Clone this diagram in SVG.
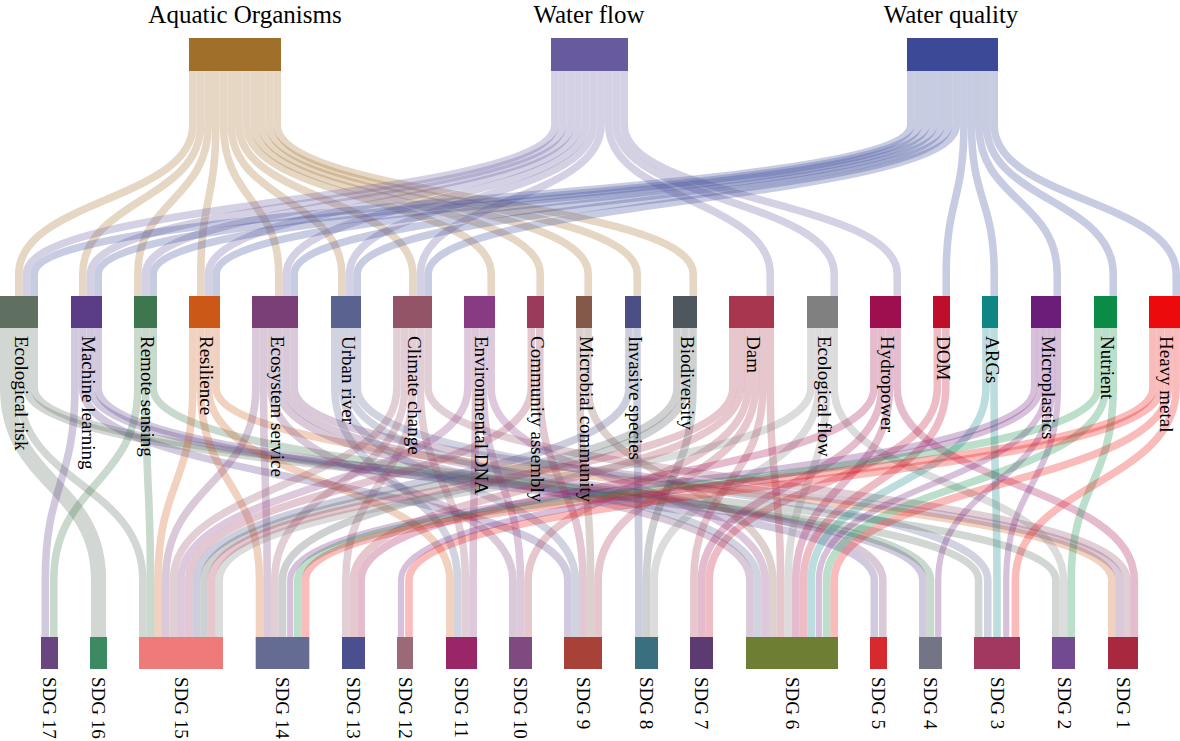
<svg xmlns="http://www.w3.org/2000/svg" width="1180" height="741" viewBox="0 0 1180 741">
<style>
text{font-family:"Liberation Serif","Times New Roman",serif;fill:#000}
.t{font-size:25px;text-anchor:middle}
.m{font-size:19px}
.b{font-size:19px}
#links path{fill:none;stroke-width:7.6;stroke-opacity:.28}
.la{stroke:#a0702a}.lw{stroke:#675a9d}.lq{stroke:#3b4996}
.c0{stroke:#5f6f60}.c1{stroke:#5a3d86}.c2{stroke:#3e7650}.c3{stroke:#cc5818}.c4{stroke:#7b3f78}
.c5{stroke:#5a6390}.c6{stroke:#935468}.c7{stroke:#883a82}.c8{stroke:#9c3a5c}.c9{stroke:#83594a}
.c10{stroke:#4c4e86}.c11{stroke:#4f575e}.c12{stroke:#a8364e}.c13{stroke:#808080}.c14{stroke:#9e0f50}
.c15{stroke:#bf0e2b}.c16{stroke:#0d8684}.c17{stroke:#6a1e7a}.c18{stroke:#0a8b46}.c19{stroke:#ec0a0c}
#links path.c17{stroke-width:6.2}
</style>
<g id="links">
<g class="la">
<path d="M192.8 71V125C192.8 200 18.8 200 18.8 274V296"/>
<path d="M200.5 71V125C200.5 200 82.8 200 82.8 274V296"/>
<path d="M208.2 71V125C208.2 200 137.8 200 137.8 274V296"/>
<path d="M215.8 71V125C215.8 200 200.8 200 200.8 274V296"/>
<path d="M223.5 71V125C223.5 200 278.8 200 278.8 274V296"/>
<path d="M231.2 71V125C231.2 200 341.8 200 341.8 274V296"/>
<path d="M238.8 71V125C238.8 200 412.8 200 412.8 274V296"/>
<path d="M246.5 71V125C246.5 200 491.2 200 491.2 274V296"/>
<path d="M254.2 71V125C254.2 200 540.2 200 540.2 274V296"/>
<path d="M261.8 71V125C261.8 200 588.2 200 588.2 274V296"/>
<path d="M269.5 71V125C269.5 200 637.2 200 637.2 274V296"/>
<path d="M277.2 71V125C277.2 200 693.2 200 693.2 274V296"/>
</g>
<g class="lw">
<path d="M554.9 71V125C554.9 200 26.5 200 26.5 274V296"/>
<path d="M562.6 71V125C562.6 200 90.5 200 90.5 274V296"/>
<path d="M570.3 71V125C570.3 200 145.5 200 145.5 274V296"/>
<path d="M578 71V125C578 200 208.5 200 208.5 274V296"/>
<path d="M585.7 71V125C585.7 200 286.5 200 286.5 274V296"/>
<path d="M593.4 71V125C593.4 200 349.5 200 349.5 274V296"/>
<path d="M601.1 71V125C601.1 200 420.5 200 420.5 274V296"/>
<path d="M608.8 71V125C608.8 200 770.2 200 770.2 274V296"/>
<path d="M616.5 71V125C616.5 200 834.2 200 834.2 274V296"/>
<path d="M624.2 71V125C624.2 200 897.2 200 897.2 274V296"/>
</g>
<g class="lq">
<path d="M910.8 71V125C910.8 200 34.2 200 34.2 274V296"/>
<path d="M918.4 71V125C918.4 200 98.2 200 98.2 274V296"/>
<path d="M926 71V125C926 200 153.2 200 153.2 274V296"/>
<path d="M933.5 71V125C933.5 200 216.2 200 216.2 274V296"/>
<path d="M941.1 71V125C941.1 200 294.2 200 294.2 274V296"/>
<path d="M948.7 71V125C948.7 200 357.2 200 357.2 274V296"/>
<path d="M956.3 71V125C956.3 200 428.2 200 428.2 274V296"/>
<path d="M963.9 71V125C963.9 200 946.2 200 946.2 274V296"/>
<path d="M971.5 71V125C971.5 200 994.2 200 994.2 274V296"/>
<path d="M979 71V125C979 200 1057.2 200 1057.2 274V296"/>
<path d="M986.6 71V125C986.6 200 1113.2 200 1113.2 274V296"/>
<path d="M994.2 71V125C994.2 200 1176.2 200 1176.2 274V296"/>
</g>
<path class="c0" style="stroke-width:15.2" d="M7.6 328V388C7.6 484 98.5 484 98.5 580V637"/>
<path class="c0" d="M19 328V388C19 484 142.8 484 142.8 580V637"/>
<path class="c0" d="M26.6 328V388C26.6 484 978.6 484 978.6 580V637"/>
<path class="c0" d="M34.2 328V388C34.2 484 1055.8 484 1055.8 580V637"/>
<path class="c1" d="M74.9 328V388C74.9 484 45.3 484 45.3 580V637"/>
<path class="c1" d="M82.6 328V388C82.6 484 567.8 484 567.8 580V637"/>
<path class="c1" d="M90.4 328V388C90.4 484 874.3 484 874.3 580V637"/>
<path class="c1" d="M98.1 328V388C98.1 484 922.8 484 922.8 580V637"/>
<path class="c2" d="M137.8 328V388C137.8 484 53.8 484 53.8 580V637"/>
<path class="c2" d="M145.5 328V388C145.5 484 150.5 484 150.5 580V637"/>
<path class="c2" d="M153.2 328V388C153.2 484 930.5 484 930.5 580V637"/>
<path class="c3" d="M192.9 328V388C192.9 484 158.1 484 158.1 580V637"/>
<path class="c3" d="M200.6 328V388C200.6 484 259.5 484 259.5 580V637"/>
<path class="c3" d="M208.4 328V388C208.4 484 449.9 484 449.9 580V637"/>
<path class="c3" d="M216.1 328V388C216.1 484 1111.8 484 1111.8 580V637"/>
<path class="c4" d="M255.8 328V388C255.8 484 165.7 484 165.7 580V637"/>
<path class="c4" d="M263.5 328V388C263.5 484 267.2 484 267.2 580V637"/>
<path class="c4" d="M271.2 328V388C271.2 484 512.8 484 512.8 580V637"/>
<path class="c4" d="M278.8 328V388C278.8 484 749.8 484 749.8 580V637"/>
<path class="c4" d="M286.5 328V388C286.5 484 882.8 484 882.8 580V637"/>
<path class="c4" d="M294.2 328V388C294.2 484 1119.3 484 1119.3 580V637"/>
<path class="c5" d="M334.8 328V388C334.8 484 457.6 484 457.6 580V637"/>
<path class="c5" d="M342.3 328V388C342.3 484 575.4 484 575.4 580V637"/>
<path class="c5" d="M349.8 328V388C349.8 484 757.5 484 757.5 580V637"/>
<path class="c5" d="M357.3 328V388C357.3 484 987.8 484 987.8 580V637"/>
<path class="c6" d="M396.9 328V388C396.9 484 173.4 484 173.4 580V637"/>
<path class="c6" d="M404.7 328V388C404.7 484 274.8 484 274.8 580V637"/>
<path class="c6" d="M412.5 328V388C412.5 484 345.8 484 345.8 580V637"/>
<path class="c6" d="M420.3 328V388C420.3 484 465.4 484 465.4 580V637"/>
<path class="c6" d="M428.1 328V388C428.1 484 1126.8 484 1126.8 580V637"/>
<path class="c7" d="M467.9 328V388C467.9 484 181 484 181 580V637"/>
<path class="c7" d="M475.6 328V388C475.6 484 473.1 484 473.1 580V637"/>
<path class="c7" d="M483.4 328V388C483.4 484 520.5 484 520.5 580V637"/>
<path class="c7" d="M491.1 328V388C491.1 484 765.2 484 765.2 580V637"/>
<path class="c8" d="M531.3 328V388C531.3 484 188.7 484 188.7 580V637"/>
<path class="c8" d="M539.8 328V388C539.8 484 583 484 583 580V637"/>
<path class="c9" d="M580 328V388C580 484 590.6 484 590.6 580V637"/>
<path class="c9" d="M588 328V388C588 484 772.8 484 772.8 580V637"/>
<path class="c10" d="M629 328V388C629 484 196.3 484 196.3 580V637"/>
<path class="c10" d="M637 328V388C637 484 638.8 484 638.8 580V637"/>
<path class="c11" d="M677 328V388C677 484 204 484 204 580V637"/>
<path class="c11" d="M685 328V388C685 484 282.5 484 282.5 580V637"/>
<path class="c11" d="M693 328V388C693 484 646.5 484 646.5 580V637"/>
<path class="c12" d="M732.8 328V388C732.8 484 211.6 484 211.6 580V637"/>
<path class="c12" d="M740.3 328V388C740.3 484 353.5 484 353.5 580V637"/>
<path class="c12" d="M747.8 328V388C747.8 484 528.2 484 528.2 580V637"/>
<path class="c12" d="M755.3 328V388C755.3 484 598.2 484 598.2 580V637"/>
<path class="c12" d="M762.8 328V388C762.8 484 693.8 484 693.8 580V637"/>
<path class="c12" d="M770.3 328V388C770.3 484 780.5 484 780.5 580V637"/>
<path class="c13" d="M810.9 328V388C810.9 484 219.2 484 219.2 580V637"/>
<path class="c13" d="M818.6 328V388C818.6 484 654.2 484 654.2 580V637"/>
<path class="c13" d="M826.4 328V388C826.4 484 788.2 484 788.2 580V637"/>
<path class="c13" d="M834.1 328V388C834.1 484 1063.5 484 1063.5 580V637"/>
<path class="c14" d="M873.9 328V388C873.9 484 361.2 484 361.2 580V637"/>
<path class="c14" d="M881.6 328V388C881.6 484 701.5 484 701.5 580V637"/>
<path class="c14" d="M889.4 328V388C889.4 484 795.8 484 795.8 580V637"/>
<path class="c14" d="M897.1 328V388C897.1 484 1134.3 484 1134.3 580V637"/>
<path class="c15" d="M937.3 328V388C937.3 484 709.2 484 709.2 580V637"/>
<path class="c15" d="M945.8 328V388C945.8 484 803.5 484 803.5 580V637"/>
<path class="c16" d="M986 328V388C986 484 811.2 484 811.2 580V637"/>
<path class="c16" d="M994 328V388C994 484 997 484 997 580V637"/>
<path class="c17" d="M1034 328V388C1034 484 290.2 484 290.2 580V637"/>
<path class="c17" d="M1040 328V388C1040 484 401 484 401 580V637"/>
<path class="c17" d="M1046 328V388C1046 484 818.8 484 818.8 580V637"/>
<path class="c17" d="M1052 328V388C1052 484 938.2 484 938.2 580V637"/>
<path class="c17" d="M1058 328V388C1058 484 1006.2 484 1006.2 580V637"/>
<path class="c18" d="M1097.8 328V388C1097.8 484 297.8 484 297.8 580V637"/>
<path class="c18" d="M1105.5 328V388C1105.5 484 826.5 484 826.5 580V637"/>
<path class="c18" d="M1113.2 328V388C1113.2 484 1071.2 484 1071.2 580V637"/>
<path class="c19" d="M1152.9 328V388C1152.9 484 305.5 484 305.5 580V637"/>
<path class="c19" d="M1160.6 328V388C1160.6 484 409 484 409 580V637"/>
<path class="c19" d="M1168.4 328V388C1168.4 484 834.2 484 834.2 580V637"/>
<path class="c19" d="M1176.1 328V388C1176.1 484 1015.4 484 1015.4 580V637"/>
</g>
<g id="top-aquatic"><rect x="189" y="38" width="92" height="33" fill="#a0702a"/><text class="t" x="245" y="23">Aquatic Organisms</text></g>
<g id="top-waterflow"><rect x="551" y="38" width="77" height="33" fill="#675a9d"/><text class="t" x="589" y="23">Water flow</text></g>
<g id="top-waterquality"><rect x="907" y="38" width="91" height="33" fill="#3b4996"/><text class="t" x="951" y="23">Water quality</text></g>
<g id="m-ecological-risk"><rect x="0" y="296" width="38" height="32" fill="#5f6f60"/><text class="m" transform="translate(14.6,336) rotate(90)">Ecological risk</text></g>
<g id="m-machine-learning"><rect x="71" y="296" width="31" height="32" fill="#5a3d86"/><text class="m" transform="translate(82.1,336) rotate(90)">Machine learning</text></g>
<g id="m-remote-sensing"><rect x="134" y="296" width="23" height="32" fill="#3e7650"/><text class="m" transform="translate(141.1,336) rotate(90)">Remote sensing</text></g>
<g id="m-resilience"><rect x="189" y="296" width="31" height="32" fill="#cc5818"/><text class="m" transform="translate(200.1,336) rotate(90)">Resilience</text></g>
<g id="m-ecosystem-service"><rect x="252" y="296" width="46" height="32" fill="#7b3f78"/><text class="m" transform="translate(270.6,336) rotate(90)">Ecosystem service</text></g>
<g id="m-urban-river"><rect x="331" y="296" width="30" height="32" fill="#5a6390"/><text class="m" transform="translate(341.6,336) rotate(90)">Urban river</text></g>
<g id="m-climate-change"><rect x="393" y="296" width="39" height="32" fill="#935468"/><text class="m" transform="translate(408.1,336) rotate(90)">Climate change</text></g>
<g id="m-environmental-dna"><rect x="464" y="296" width="31" height="32" fill="#883a82"/><text class="m" transform="translate(475.1,336) rotate(90)">Environmental DNA</text></g>
<g id="m-community-assembly"><rect x="527" y="296" width="17" height="32" fill="#9c3a5c"/><text class="m" transform="translate(531.1,336) rotate(90)">Community assembly</text></g>
<g id="m-microbial-community"><rect x="576" y="296" width="16" height="32" fill="#83594a"/><text class="m" transform="translate(579.6,336) rotate(90)">Microbial community</text></g>
<g id="m-invasive-species"><rect x="625" y="296" width="16" height="32" fill="#4c4e86"/><text class="m" transform="translate(628.6,336) rotate(90)">Invasive species</text></g>
<g id="m-biodiversity"><rect x="673" y="296" width="24" height="32" fill="#4f575e"/><text class="m" transform="translate(680.6,336) rotate(90)">Biodiversity</text></g>
<g id="m-dam"><rect x="729" y="296" width="45" height="32" fill="#a8364e"/><text class="m" transform="translate(747.1,336) rotate(90)">Dam</text></g>
<g id="m-ecological-flow"><rect x="807" y="296" width="31" height="32" fill="#808080"/><text class="m" transform="translate(818.1,336) rotate(90)">Ecological flow</text></g>
<g id="m-hydropower"><rect x="870" y="296" width="31" height="32" fill="#9e0f50"/><text class="m" transform="translate(881.1,336) rotate(90)">Hydropower</text></g>
<g id="m-dom"><rect x="933" y="296" width="17" height="32" fill="#bf0e2b"/><text class="m" transform="translate(937.1,336) rotate(90)">DOM</text></g>
<g id="m-args"><rect x="982" y="296" width="16" height="32" fill="#0d8684"/><text class="m" transform="translate(985.6,336) rotate(90)">ARGs</text></g>
<g id="m-microplastics"><rect x="1031" y="296" width="30" height="32" fill="#6a1e7a"/><text class="m" transform="translate(1041.6,336) rotate(90)">Microplastics</text></g>
<g id="m-nutrient"><rect x="1094" y="296" width="23" height="32" fill="#0a8b46"/><text class="m" transform="translate(1101.1,336) rotate(90)">Nutrient</text></g>
<g id="m-heavy-metal"><rect x="1149" y="296" width="31" height="32" fill="#ec0a0c"/><text class="m" transform="translate(1160.1,336) rotate(90)">Heavy metal</text></g>
<g id="sdg17"><rect x="41" y="637" width="17" height="32" fill="#6a4681"/><text class="b" transform="translate(43,677) rotate(90)">SDG 17</text></g>
<g id="sdg16"><rect x="90" y="637" width="17" height="32" fill="#3c8a62"/><text class="b" transform="translate(92,677) rotate(90)">SDG 16</text></g>
<g id="sdg15"><rect x="139" y="637" width="84" height="32" fill="#ee7a79"/><text class="b" transform="translate(174.7,677) rotate(90)">SDG 15</text></g>
<g id="sdg14"><rect x="255.7" y="637" width="53.6" height="32" fill="#656c93"/><text class="b" transform="translate(276.2,677) rotate(90)">SDG 14</text></g>
<g id="sdg13"><rect x="342" y="637" width="23" height="32" fill="#4a4f90"/><text class="b" transform="translate(347.2,677) rotate(90)">SDG 13</text></g>
<g id="sdg12"><rect x="397" y="637" width="16" height="32" fill="#9a6a78"/><text class="b" transform="translate(398.7,677) rotate(90)">SDG 12</text></g>
<g id="sdg11"><rect x="446" y="637" width="31" height="32" fill="#9a2668"/><text class="b" transform="translate(455,677) rotate(90)">SDG 11</text></g>
<g id="sdg10"><rect x="509" y="637" width="23" height="32" fill="#7f4a80"/><text class="b" transform="translate(514.4,677) rotate(90)">SDG 10</text></g>
<g id="sdg9"><rect x="564" y="637" width="38" height="32" fill="#a84238"/><text class="b" transform="translate(576.9,677) rotate(90)">SDG 9</text></g>
<g id="sdg8"><rect x="635" y="637" width="23" height="32" fill="#3a6f80"/><text class="b" transform="translate(640,677) rotate(90)">SDG 8</text></g>
<g id="sdg7"><rect x="690" y="637" width="23" height="32" fill="#5b3b72"/><text class="b" transform="translate(695,677) rotate(90)">SDG 7</text></g>
<g id="sdg6"><rect x="746" y="637" width="92" height="32" fill="#6e7e32"/><text class="b" transform="translate(785.5,677) rotate(90)">SDG 6</text></g>
<g id="sdg5"><rect x="870" y="637" width="17" height="32" fill="#d62a2e"/><text class="b" transform="translate(872,677) rotate(90)">SDG 5</text></g>
<g id="sdg4"><rect x="919" y="637" width="23" height="32" fill="#747487"/><text class="b" transform="translate(924.2,677) rotate(90)">SDG 4</text></g>
<g id="sdg3"><rect x="974" y="637" width="46" height="32" fill="#a0385f"/><text class="b" transform="translate(990.9,677) rotate(90)">SDG 3</text></g>
<g id="sdg2"><rect x="1052" y="637" width="23" height="32" fill="#714a92"/><text class="b" transform="translate(1057.5,677) rotate(90)">SDG 2</text></g>
<g id="sdg1"><rect x="1108" y="637" width="30" height="32" fill="#a8283f"/><text class="b" transform="translate(1117,677) rotate(90)">SDG 1</text></g>
</svg>
